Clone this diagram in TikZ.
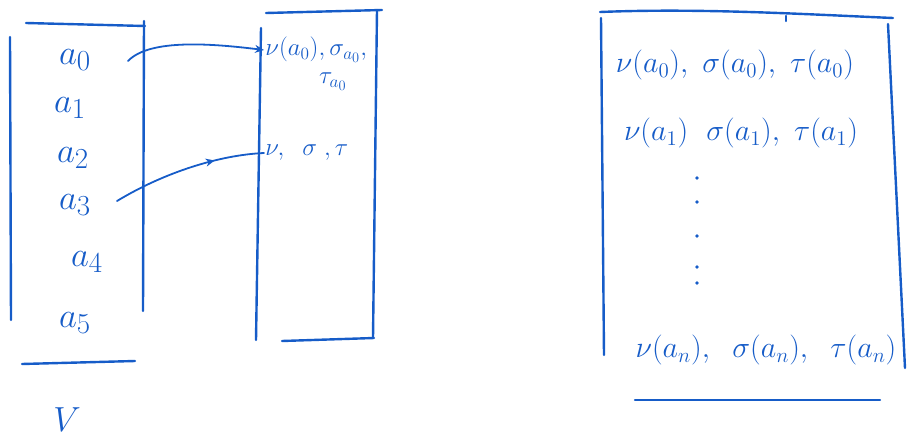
\documentclass[tikz,border=0pt]{standalone}
\usetikzlibrary{arrows.meta,decorations.markings}
\definecolor{ink}{RGB}{22,92,200}
\begin{document}
\begin{tikzpicture}[x=1pt,y=-1pt,
  pen/.style={draw=ink,line width=2.4pt,line cap=round,line join=round},
  lbl/.style={text=ink,inner sep=1pt,font=\Huge,scale=1.4},
  mid/.style={text=ink,inner sep=1pt,font=\huge,scale=1.2},
  row/.style={text=ink,inner sep=1pt,font=\huge,scale=1.45},
  conn/.style={draw=ink,line width=1.8pt,line cap=round},
  midarrow/.style={decoration={markings,mark=at position 0.68 with {\arrow{Stealth[length=9pt,width=8pt,open]}}},postaction={decorate}}]
\useasboundingbox (0,0) rectangle (911,447);
% left array V
\draw[pen] (10,37) -- (11,320);
\draw[pen] (26,23) -- (145,26);
\draw[pen] (144,21) -- (143,311);
\draw[pen] (22,364) -- (135,361);
\node[lbl] (a0) at (75,60) {$a_0$};
\node[lbl] (a1) at (70,108) {$a_1$};
\node[lbl] (a2) at (73,158) {$a_2$};
\node[lbl] (a3) at (75,205) {$a_3$};
\node[lbl] (a4) at (87,262) {$a_4$};
\node[lbl] (a5) at (75,323) {$a_5$};
\node[lbl] (V) at (67,420) {$V$};
% middle box
\draw[pen] (266,13) -- (382,10);
\draw[pen] (261,28) -- (256,340);
\draw[pen] (377,10) -- (373,338);
\draw[pen] (282,341) -- (374,338);
\node[mid,anchor=west] (m0) at (264,50) {$\nu(a_0),\sigma_{a_0},$};
\node[mid] (m0b) at (333,82) {$\tau_{a_0}$};
\node[mid,anchor=west] (m1) at (264,153) {$\nu,\;\;\sigma\;,\tau$};
% connectors
\coordinate (s0) at (128,61);
\coordinate (s3) at (117,201);
\draw[conn,-{Stealth[length=9pt,width=8pt,open]}] (s0) .. controls (150,38) and (215,44) .. (m0.west);
\draw[conn,midarrow] (s3) .. controls (165,172) and (220,155) .. (m1.west);
% right box
\draw[pen] (600,12) .. controls (700,8) and (800,14) .. (893,18);
\draw[pen] (786,16) -- (786,21);
\draw[pen] (601,18) -- (604,355);
\draw[pen] (888,24) -- (905,368);
\draw[pen] (635,400) -- (880,400);
\node[row] (r0) at (735,65) {$\nu(a_0),\ \sigma(a_0),\ \tau(a_0)$};
\node[row] (r1) at (741,133) {$\nu(a_1)\ \ \sigma(a_1),\ \tau(a_1)$};
\node[row] (rn) at (766,350) {$\nu(a_n),\ \;\sigma(a_n),\ \;\tau(a_n)$};
\foreach \y in {178,202,236,267,283} \fill[ink] (697,\y) circle (1.8);
\end{tikzpicture}
\end{document}
